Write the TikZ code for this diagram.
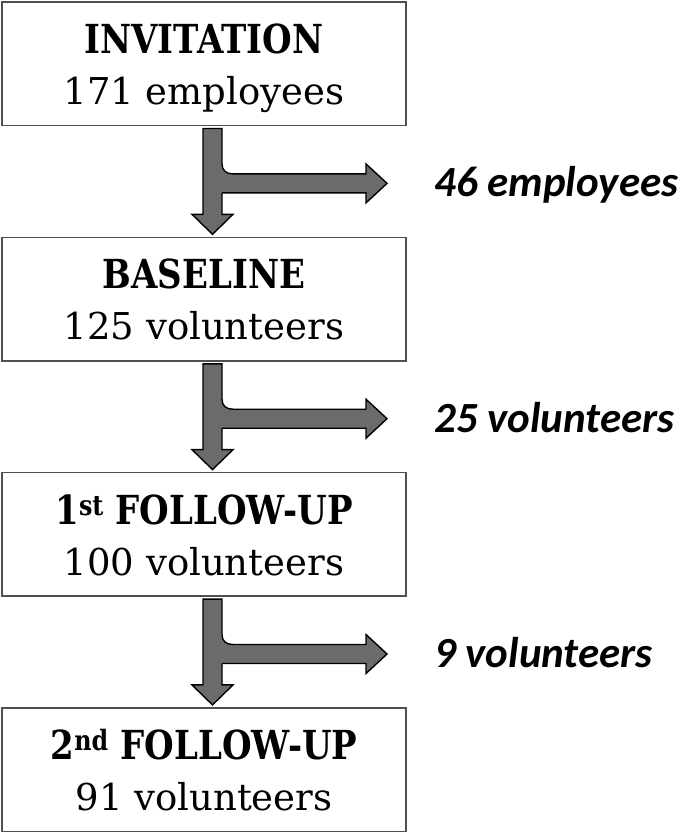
\documentclass[tikz,border=0pt]{standalone}
\usepackage{fontspec}
\setmainfont{DejaVu Serif}
\newfontfamily\titlefont[FakeStretch=0.85]{DejaVu Serif}
\newfontfamily\labelfont{Carlito}
\usetikzlibrary{calc}
\definecolor{arrowgray}{HTML}{6B6B6B}
\definecolor{boxline}{HTML}{505050}
\tikzset{
  stagebox/.style={draw=boxline, line width=1.6pt, fill=white, minimum width=404pt,
    minimum height=123.5pt, inner sep=0pt, outer sep=0pt, anchor=north west},
  titletext/.style={anchor=base, inner sep=0pt, font=\titlefont\bfseries\fontsize{40}{48}\selectfont},
  counttext/.style={anchor=base, inner sep=0pt, font=\fontsize{37}{44}\selectfont},
  droptext/.style={anchor=base west, inner sep=0pt, font=\labelfont\bfseries\itshape\fontsize{43}{50}\selectfont},
  blockarrow/.style={fill=arrowgray, draw=black, line width=1.4pt, line join=miter},
  blockedge/.style={draw=black, line width=1.4pt, line join=miter},
}
% #1 upper box, #2 lower box, #3 id, #4 label
\newcommand\dropout[4]{%
  \draw[blockarrow] ($(#1.south west)+(201,3)$) -- ($(#1.south west)+(220,3)$)
    -- ($(#2.north west)+(220,-23)$) -- ($(#2.north west)+(231,-23)$)
    -- ($(#2.north west)+(210.5,-3)$) -- ($(#2.north west)+(190,-23)$)
    -- ($(#2.north west)+(201,-23)$) -- cycle;
  \coordinate (m#3) at ($(#1.south west)!0.5!(#2.north west)+(0,2)$);
  \fill[arrowgray] ($(m#3)+(217,-19.5)$) -- ($(m#3)+(220,-19.5)$)
    .. controls ($(m#3)+(220,-13)$) and ($(m#3)+(224,-9.5)$) .. ($(m#3)+(231,-9.5)$)
    -- ($(m#3)+(364,-9.5)$) -- ($(m#3)+(364,-19.5)$) -- ($(m#3)+(385,0)$)
    -- ($(m#3)+(364,19.5)$) -- ($(m#3)+(364,9.5)$) -- ($(m#3)+(217,9.5)$) -- cycle;
  \draw[blockedge] ($(m#3)+(220,-19.5)$)
    .. controls ($(m#3)+(220,-13)$) and ($(m#3)+(224,-9.5)$) .. ($(m#3)+(231,-9.5)$)
    -- ($(m#3)+(364,-9.5)$) -- ($(m#3)+(364,-19.5)$) -- ($(m#3)+(385,0)$)
    -- ($(m#3)+(364,19.5)$) -- ($(m#3)+(364,9.5)$) -- ($(m#3)+(220,9.5)$);
  \node[droptext] (d#3) at ($(m#3)+(432,13.5)$) {#4};
}
\begin{document}
\begin{tikzpicture}[x=1pt,y=-1pt]
\useasboundingbox (0,0) rectangle (685,835);
\node[stagebox] (b1) at (2,2) {};
\node[stagebox] (b2) at (2,237.3) {};
\node[stagebox] (b3) at (2,472.6) {};
\node[stagebox] (b4) at (2,707.9) {};

\node[titletext] (t1) at ($(b1.north)+(0,51.5)$) {INVITATION};
\node[counttext] (c1) at ($(b1.north)+(0,102.5)$) {171 employees};
\node[titletext] (t2) at ($(b2.north)+(0,51.5)$) {BASELINE};
\node[counttext] (c2) at ($(b2.north)+(0,102.5)$) {125 volunteers};
\node[titletext] (t3) at ($(b3.north)+(0,51.5)$) {1\textsuperscript{st} FOLLOW-UP};
\node[counttext] (c3) at ($(b3.north)+(0,102.5)$) {100 volunteers};
\node[titletext] (t4) at ($(b4.north)+(0,51.5)$) {2\textsuperscript{nd} FOLLOW-UP};
\node[counttext] (c4) at ($(b4.north)+(0,102.5)$) {91 volunteers};

\dropout{b1}{b2}{1}{46 employees}
\dropout{b2}{b3}{2}{25 volunteers}
\dropout{b3}{b4}{3}{9 volunteers}
\end{tikzpicture}
\end{document}
